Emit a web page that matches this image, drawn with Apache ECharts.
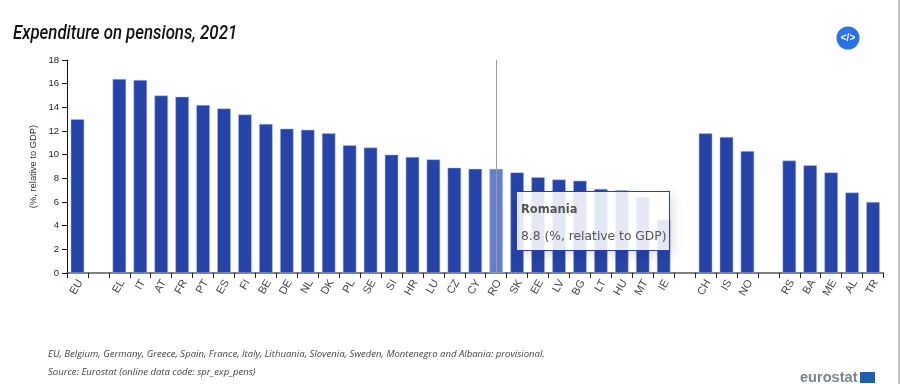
<!DOCTYPE html>
<html>
<head>
<meta charset="utf-8">
<title>Expenditure on pensions, 2021</title>
<script src="https://cdn.jsdelivr.net/npm/echarts@6/dist/echarts.min.js"></script>
<style>
  html, body { margin: 0; padding: 0; background: #fff; }
  #chart { width: 900px; height: 384px; }
</style>
</head>
<body>
<div id="chart"></div>
<script>
// empty categories are the gaps between the country groups
const categories = ['EU', '', 'EL', 'IT', 'AT', 'FR', 'PT', 'ES', 'FI', 'BE', 'DE', 'NL', 'DK', 'PL', 'SE', 'SI', 'HR', 'LU', 'CZ', 'CY', 'RO', 'SK', 'EE', 'LV', 'BG', 'LT', 'HU', 'MT', 'IE', '', 'CH', 'IS', 'NO', '', 'RS', 'BA', 'ME', 'AL', 'TR'];
const values = [13.0, null, 16.4, 16.3, 15.0, 14.9, 14.2, 13.9, 13.4, 12.6, 12.2, 12.1, 11.8, 10.8, 10.6, 10.0, 9.8, 9.6, 8.9, 8.8, 8.8, 8.5, 8.1, 7.9, 7.8, 7.1, 7.0, 6.4, 4.5, null, 11.8, 11.5, 10.3, null, 9.5, 9.1, 8.5, 6.8, 6.0];
const unit = '(%, relative to GDP)';
const hovered = 'RO';
const hoveredName = 'Romania';
const footnotes = [
  'EU, Belgium, Germany, Greece, Spain, France, Italy, Lithuania, Slovenia, Sweden, Montenegro and Albania: provisional.',
  'Source: Eurostat (online data code: spr_exp_pens)'
];

const chart = echarts.init(document.getElementById('chart'));
const hoveredIndex = categories.indexOf(hovered);

chart.setOption({
  animation: false,
  backgroundColor: '#fff',
  grid: { left: 67, right: 16.5, top: 60, bottom: 111 },
  tooltip: {
    trigger: 'axis',
    alwaysShowContent: true,
    transitionDuration: 0,
    position: [516, 191],
    padding: 0,
    borderWidth: 0,
    backgroundColor: 'transparent',
    extraCssText: 'box-shadow:none;',
    axisPointer: { type: 'line', lineStyle: { color: '#999', width: 1, type: 'solid' }, z: 5 },
    formatter: function (params) {
      return '<div style="box-sizing:border-box;width:154px;height:60px;padding:9px 0 0 4px;' +
        'background:rgba(255,255,255,0.88);border:1px solid #2644a7;box-shadow:4px 4px 10px rgba(0,0,0,0.12);' +
        'font-family:\'DejaVu Sans\',sans-serif;color:#555;white-space:nowrap;">' +
        '<div style="font-weight:bold;font-size:11.5px;line-height:16px;">' + hoveredName + '</div>' +
        '<div style="font-size:12.3px;line-height:16px;margin-top:11px;">' + params[0].value + ' ' + unit + '</div></div>';
    }
  },
  xAxis: {
    type: 'category',
    data: categories,
    axisLine: { lineStyle: { color: '#555', width: 1.5 } },
    axisTick: { show: true, alignWithLabel: false, interval: 0, length: 5, lineStyle: { color: '#222' } },
    axisLabel: {
      interval: 0,
      rotate: 60,
      margin: 6,
      verticalAlign: 'top',
      lineHeight: 6.5,
      color: '#444',
      fontFamily: 'Liberation Sans',
      fontSize: 11
    },
    axisPointer: { show: true, type: 'line', label: { show: false } }
  },
  yAxis: {
    type: 'value',
    min: 0,
    max: 18,
    interval: 2,
    name: unit,
    nameLocation: 'middle',
    nameGap: 28,
    nameTextStyle: { color: '#333', fontFamily: 'Liberation Sans', fontSize: 9.4 },
    splitLine: { show: false },
    axisLine: { show: true, lineStyle: { color: '#111', width: 1 } },
    axisTick: { show: true, length: 5, lineStyle: { color: '#111' } },
    axisLabel: { color: '#222', fontFamily: 'Liberation Sans', fontSize: 9.5, margin: 8 }
  },
  series: [{
    type: 'bar',
    barWidth: 13.5,
    itemStyle: { color: '#2644a7', borderColor: '#b5c4ec', borderWidth: 0.5 },
    data: values.map(function (v, i) {
      return i === hoveredIndex
        ? { value: v, itemStyle: { color: '#5a74b8', borderColor: '#b5c4ec', borderWidth: 0.5 } }
        : v;
    })
  }],
  graphic: [
    {
      type: 'text', x: 13, y: 24, scaleX: 0.84,
      style: { text: 'Expenditure on pensions, 2021', font: 'italic 500 20px Roboto', fill: '#111' }
    },
    {
      type: 'text', left: 48, top: 349,
      style: { text: footnotes[0], font: 'italic 9.55px "Open Sans"', fill: '#444' }
    },
    {
      type: 'text', left: 48, top: 367,
      style: { text: footnotes[1], font: 'italic 9.55px "Open Sans"', fill: '#444' }
    },
    { type: 'circle', shape: { cx: 848, cy: 38, r: 11.5 }, style: { fill: '#2a72e5' } },
    {
      type: 'text', x: 848, y: 38,
      style: { text: '</>', font: 'bold 10px "Liberation Sans"', fill: '#fff', align: 'center', verticalAlign: 'middle' }
    },
    {
      type: 'text', left: 800, top: 370,
      style: { text: 'eurostat', font: 'bold 14.6px "Liberation Sans"', fill: '#7a858e' }
    },
    { type: 'rect', shape: { x: 860, y: 372, width: 15, height: 11 }, style: { fill: '#1f5fa8' } },
    { type: 'rect', shape: { x: 898, y: 0, width: 2, height: 384 }, style: { fill: '#c8c8c8' } }
  ]
});

chart.dispatchAction({ type: 'showTip', seriesIndex: 0, dataIndex: hoveredIndex });
</script>
</body>
</html>
